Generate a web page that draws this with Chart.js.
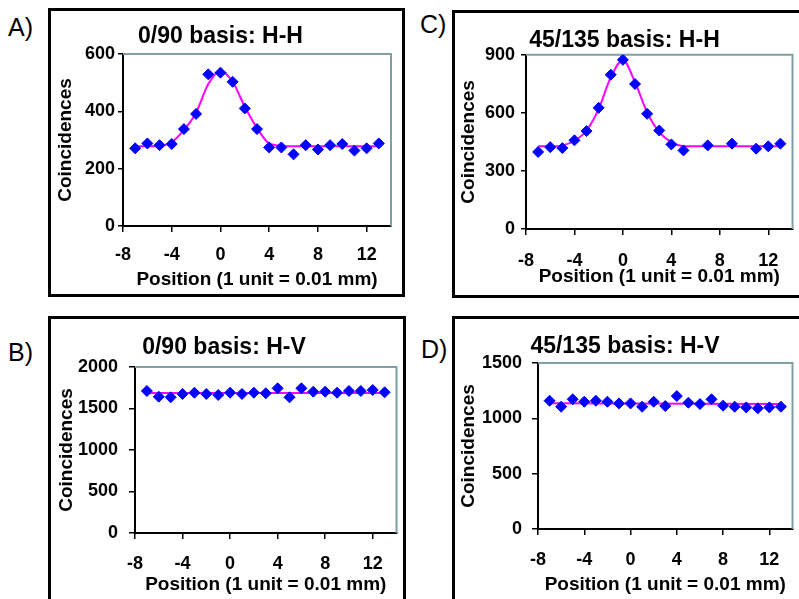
<!DOCTYPE html>
<html><head><meta charset="utf-8">
<script src="https://cdn.jsdelivr.net/npm/chart.js@4.4.0/dist/chart.umd.min.js"></script>
<style>
html,body{margin:0;padding:0;background:#fff;width:799px;height:599px;overflow:hidden;position:relative;font-family:"Liberation Sans",Arial,sans-serif;}
.frame{position:absolute;border:3px solid #000;box-sizing:border-box;}
.lbl{position:absolute;font-size:25px;line-height:25px;color:#000;font-family:"Liberation Sans",Arial,sans-serif;}
canvas{position:absolute;}
</style></head><body>
<div class="frame" style="left:48px;top:8px;width:357px;height:289px;"></div>
<div class="frame" style="left:452px;top:10px;width:400px;height:288px;"></div>
<div class="frame" style="left:48px;top:316px;width:358px;height:300px;"></div>
<div class="frame" style="left:452px;top:316px;width:400px;height:300px;"></div>
<div class="lbl" style="left:8px;top:15px;">A)</div>
<div class="lbl" style="left:420px;top:12px;">C)</div>
<div class="lbl" style="left:8px;top:340px;">B)</div>
<div class="lbl" style="left:421px;top:337px;">D)</div>
<canvas id="cA" width="352" height="284" style="left:50px;top:10px;width:352px;height:284px;"></canvas>
<canvas id="cC" width="344" height="280" style="left:455px;top:14px;width:344px;height:280px;"></canvas>
<canvas id="cB" width="352" height="279" style="left:51px;top:320px;width:352px;height:279px;"></canvas>
<canvas id="cD" width="344" height="279" style="left:455px;top:320px;width:344px;height:279px;"></canvas>
<script>
// ---- data ----
const xTickValues = [-8, -4, 0, 4, 8, 12];
const xAxisTitle = 'Position (1 unit = 0.01 mm)';
const yAxisTitle = 'Coincidences';

// A) 0/90 basis: H-H
const titleA = '0/90 basis: H-H';
const posA = [-7,-6,-5,-4,-3,-2,-1,0,1,2,3,4,5,6,7,8,9,10,11,12,13];
const countsA = [271,288,282,286,338,391,529,535,503,410,338,274,274,250,282,267,282,286,263,271,288];
const fitPosA = [-7,-6,-5,-4,-3,-2,-1,0,1,2,3,4,5,6,7,8,9,10,11,12,13];
const fitA = [278,278,280,292,335,395,495,542,503,416,342,288,280,278,278,278,278,278,278,278,278];
const yTicksA = [0, 200, 400, 600];

// C) 45/135 basis: H-H
const titleC = '45/135 basis: H-H';
const posC = [-7,-6,-5,-4,-3,-2,-1,0,1,2,3,4,5,7,9,11,12,13];
const countsC = [398,423,418,458,506,626,797,874,749,595,509,437,406,432,441,415,427,441];
const fitPosC = [-7,-6,-5,-4,-3,-2,-1,0,1,2,3,4,5,6,7,8,9,10,11,12,13];
const fitC = [427,427,432,456,509,621,784,872,758,603,500,449,428,427,427,427,427,427,427,427,427];
const yTicksC = [0, 300, 600, 900];

// B) 0/90 basis: H-V
const titleB = '0/90 basis: H-V';
const posB = [-7,-6,-5,-4,-3,-2,-1,0,1,2,3,4,5,6,7,8,9,10,11,12,13];
const countsB = [1711,1642,1635,1675,1690,1675,1663,1690,1675,1690,1683,1743,1635,1743,1703,1703,1690,1711,1711,1723,1695];
const fitPosB = [-7, 13];
const fitB = [1688, 1688];
const yTicksB = [0, 500, 1000, 1500, 2000];

// D) 45/135 basis: H-V
const titleD = '45/135 basis: H-V';
const posD = [-7,-6,-5,-4,-3,-2,-1,0,1,2,3,4,5,6,7,8,9,10,11,12,13];
const countsD = [1159,1105,1172,1150,1159,1150,1135,1135,1105,1150,1111,1201,1141,1129,1172,1114,1105,1099,1090,1099,1105];
const fitPosD = [-7, 13];
const fitD = [1136, 1130];
const yTicksD = [0, 500, 1000, 1500];

// ---- styles ----
const BLUE = '#0000ff';
const MAGENTA = '#ff00ff';
const FRAME_GREY = '#7f9fa3';
const FONT = '"Liberation Sans", Arial, sans-serif';

const plotFrame = {
  id: 'plotFrame',
  beforeDatasetsDraw(chart) {
    const {ctx, chartArea: {left, right, top, bottom}} = chart;
    ctx.save();
    ctx.strokeStyle = FRAME_GREY;
    ctx.lineWidth = 2;
    ctx.beginPath();
    ctx.moveTo(left, top);
    ctx.lineTo(right, top);
    ctx.lineTo(right, bottom);
    ctx.stroke();
    ctx.restore();
  }
};

function pts(xs, ys) { return xs.map((v, i) => ({x: v, y: ys[i]})); }

function makeChart(id, p) {
  return new Chart(document.getElementById(id), {
    type: 'scatter',
    data: {
      datasets: [
        {
          data: pts(p.x, p.y),
          pointStyle: 'rectRot', pointRadius: 5.5, pointHoverRadius: 5.5,
          backgroundColor: BLUE, borderColor: BLUE, borderWidth: 1,
          showLine: false
        },
        {
          data: pts(p.fx, p.fy),
          showLine: true, borderColor: MAGENTA, borderWidth: 2,
          pointRadius: 0, fill: false, cubicInterpolationMode: 'monotone'
        }
      ]
    },
    options: {
      responsive: false, animation: false, devicePixelRatio: 1,
      layout: {padding: {left: 0, right: p.padR, top: 0, bottom: 0}},
      plugins: {
        legend: {display: false},
        tooltip: {enabled: false},
        title: {
          display: true, text: p.title, color: '#000',
          font: {family: FONT, size: 23, weight: 'bold', lineHeight: 1.2},
          padding: {top: p.tTop, bottom: p.tBot}
        }
      },
      scales: {
        x: {
          type: 'linear', min: -8, max: 14,
          afterBuildTicks: s => { s.ticks = xTickValues.map(v => ({value: v})); },
          afterFit: s => { s.height = p.xH; },
          grid: {drawOnChartArea: false, drawTicks: true, tickLength: 6, color: '#000', lineWidth: 1.5},
          border: {display: true, color: '#000', width: 2},
          ticks: {color: '#000', padding: p.xPad, maxRotation: 0, autoSkip: false,
                  callback: v => String(v),
                  font: {family: FONT, size: 18, weight: 'bold', lineHeight: 1.2}},
          title: {display: true, text: xAxisTitle, color: '#000',
                  font: {family: FONT, size: 19, weight: 'bold', lineHeight: 1.2},
                  padding: {top: 0, bottom: p.xtB}}
        },
        y: {
          type: 'linear', min: 0, max: p.ymax,
          afterBuildTicks: s => { s.ticks = p.yt.map(v => ({value: v})); },
          afterFit: s => { s.width = p.yW; },
          grid: {drawOnChartArea: false, drawTicks: true, tickLength: p.yTl, color: '#000', lineWidth: 1.5},
          border: {display: true, color: '#000', width: 2},
          ticks: {color: '#000', padding: p.yPad, autoSkip: false,
                  callback: v => String(v),
                  font: {family: FONT, size: 18, weight: 'bold', lineHeight: 1.2}},
          title: {display: true, text: yAxisTitle, color: '#000',
                  font: {family: FONT, size: 19, weight: 'bold', lineHeight: 1.2},
                  padding: {top: p.ytT, bottom: 0}}
        }
      }
    },
    plugins: [plotFrame]
  });
}

makeChart('cA', {x: posA, y: countsA, fx: fitPosA, fy: fitA, title: titleA, ymax: 600, yt: yTicksA,
  padR: 11, tTop: 12.7, tBot: 3.7, xH: 68, xPad: 12.7, xtB: 2.5, yW: 73, ytT: 4.2, yTl: 5, yPad: 3});
makeChart('cC', {x: posC, y: countsC, fx: fitPosC, fy: fitC, title: titleC, ymax: 900, yt: yTicksC,
  padR: 5, tTop: 13.2, tBot: 0, xH: 65, xPad: 15, xtB: 5.5, yW: 71, ytT: 2.7, yTl: 5, yPad: 6});
makeChart('cB', {x: posB, y: countsB, fx: fitPosB, fy: fitB, title: titleB, ymax: 2000, yt: yTicksB,
  padR: 6, tTop: 14.2, tBot: 5.2, xH: 66, xPad: 14.7, xtB: 3.2, yW: 84, ytT: 4.7, yTl: 6, yPad: 11});
makeChart('cD', {x: posD, y: countsD, fx: fitPosD, fy: fitD, title: titleD, ymax: 1500, yt: yTicksD,
  padR: 4, tTop: 13.2, tBot: 2.2, xH: 70, xPad: 14.2, xtB: 3.2, yW: 83, ytT: 2.7, yTl: 6, yPad: 10});
</script>
</body></html>
